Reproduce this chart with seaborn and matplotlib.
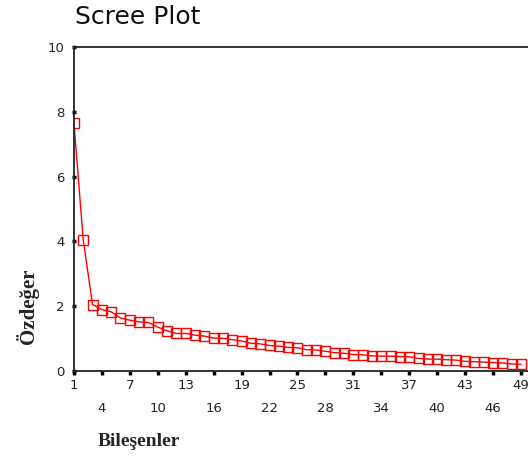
import seaborn as sns
import matplotlib.pyplot as plt
import pandas as pd

# Eigenvalues (components 1..49)
components = list(range(1, 50))
eigenvalues = [7.66, 4.05, 2.05, 1.90, 1.83, 1.64, 1.57, 1.52, 1.50, 1.36,
               1.24, 1.16, 1.16, 1.11, 1.08, 1.02, 1.01, 0.97, 0.93, 0.86,
               0.84, 0.79, 0.77, 0.73, 0.72, 0.66, 0.65, 0.61, 0.57, 0.55,
               0.51, 0.50, 0.47, 0.46, 0.46, 0.45, 0.44, 0.39, 0.37, 0.37,
               0.35, 0.34, 0.30, 0.29, 0.28, 0.26, 0.25, 0.22, 0.21]
upper_ticks = list(range(1, 50, 6))   # 1, 7, 13, ...
lower_ticks = list(range(4, 50, 6))   # 4, 10, 16, ...
y_ticks = [0, 2, 4, 6, 8, 10]

df = pd.DataFrame({'Bileşenler': components, 'Özdeğer': eigenvalues})

sns.set_style('white')
plt.rcParams['font.family'] = ['DejaVu Sans']

fig = plt.figure(figsize=(5.28, 4.57), dpi=100)
ax = fig.add_axes([0.140, 0.188, 0.860, 0.709])

sns.lineplot(data=df, x='Bileşenler', y='Özdeğer', ax=ax, color='red',
             linewidth=1.0, marker='s', markersize=6.5,
             markerfacecolor='none', markeredgecolor='red', markeredgewidth=1.0)

ax.set_xlim(1, 49.75)
ax.set_ylim(0, 10)

# Alternating two-row tick labels
ax.set_xticks(upper_ticks)
ax.set_xticks(lower_ticks, minor=True)
ax.set_xticklabels([str(t) for t in upper_ticks])
ax.set_xticklabels([str(t) for t in lower_ticks], minor=True)
ax.tick_params(axis='x', which='major', pad=3)
ax.tick_params(axis='x', which='minor', pad=19)
ax.tick_params(axis='x', which='both', direction='out', length=3, width=2.5,
               color='black', labelsize=9.5, labelcolor='#222222', bottom=True)

ax.set_yticks(y_ticks)
ax.tick_params(axis='y', direction='inout', length=3, width=2.5, color='black',
               labelsize=9.5, labelcolor='#222222', left=True, pad=5)

for side in ['left', 'top', 'bottom']:
    ax.spines[side].set_color('#222222')
    ax.spines[side].set_linewidth(1.3)
ax.spines['right'].set_visible(False)

ax.set_xlabel('')
ax.set_ylabel('')
fig.text(98 / 528, 1 - 446 / 457, 'Bileşenler', family='Liberation Serif',
         fontweight='bold', fontsize=14, ha='left', va='baseline')
fig.text(27 / 528, 1 - 306 / 457, 'Özdeğer', family='Liberation Serif',
         fontweight='bold', fontsize=15, rotation=90, ha='center', va='center')
fig.text(75 / 528, 1 - 24 / 457, 'Scree Plot', fontsize=18, ha='left',
         va='baseline', color='#111111')

plt.savefig('out.png', dpi=100)
